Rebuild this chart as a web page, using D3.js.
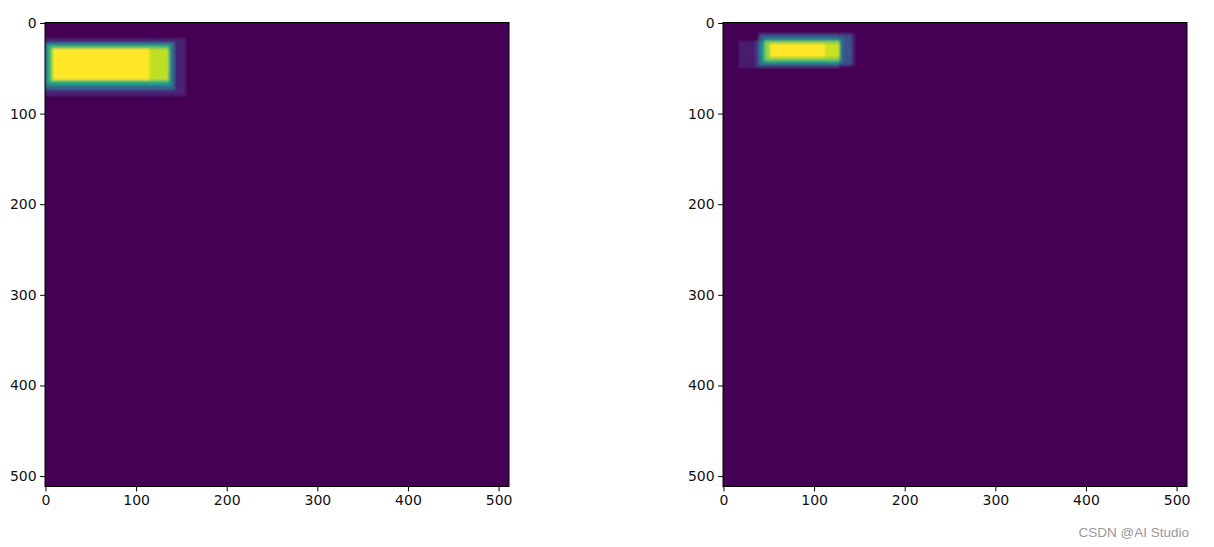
<!DOCTYPE html>
<html>
<head>
<meta charset="utf-8">
<script src="https://cdn.jsdelivr.net/npm/d3@7"></script>
<style>
  html, body { margin: 0; padding: 0; background: #ffffff; }
  svg { display: block; }
  .tick text { font-family: "DejaVu Sans", sans-serif; font-size: 14px; fill: #111; }
</style>
</head>
<body>
<svg id="chart" width="1214" height="547"></svg>
<script>
// ---- data ----
const imageSize = 512;
const tickValues = [0, 100, 200, 300, 400, 500];

// left panel: boxes (image pixel coordinates), summed into a count map
const leftX0 = [0, 0, 0, 0, 0, 2, 4, 6, 8, 8];
const leftY0 = [17, 21, 21, 23, 23, 25, 25, 28, 28, 28];
const leftX1 = [154, 143, 143, 140, 140, 136, 136, 136, 136, 115];
const leftY1 = [80, 74.5, 74.5, 70, 70, 66, 66, 63, 63, 63];

// right panel boxes
const rightX0 = [17, 35, 39, 39, 39, 42.5, 42.5, 45.8, 45.8, 45.8, 51.4, 51.4];
const rightY0 = [20, 20, 11.6, 11.6, 14, 14, 17, 17, 20, 20, 22.7, 22.7];
const rightX1 = [128, 128, 145, 141.8, 141.8, 131.8, 131.8, 128.6, 128.6, 128.6, 128.6, 112];
const rightY1 = [49, 49, 47, 47, 45, 45, 43, 43, 41, 41, 38, 38];

const watermark = "CSDN @AI Studio";

// ---- drawing ----
const svg = d3.select("#chart");
const defs = svg.append("defs");
defs.append("filter").attr("id", "soft")
  .attr("x", "-5%").attr("y", "-5%").attr("width", "110%").attr("height", "110%")
  .append("feGaussianBlur").attr("stdDeviation", 0.9);

const panels = [
  { left: 45, top: 22.5, size: 464, x0: leftX0, y0: leftY0, x1: leftX1, y1: leftY1, id: "L" },
  { left: 723, top: 22.5, size: 464, x0: rightX0, y0: rightY0, x1: rightX1, y1: rightY1, id: "R" }
];

panels.forEach(p => {
  const x = d3.scaleLinear().domain([-0.5, imageSize - 0.5]).range([p.left, p.left + p.size]);
  const y = d3.scaleLinear().domain([-0.5, imageSize - 0.5]).range([p.top, p.top + p.size]);
  const n = p.x0.length;
  const color = d3.scaleSequential(d3.interpolateViridis).domain([0, n]);

  const boxes = d3.range(n).map(i => ({ x0: p.x0[i], y0: p.y0[i], x1: p.x1[i], y1: p.y1[i] }));
  const xb = Array.from(new Set([-0.5, imageSize - 0.5, ...p.x0, ...p.x1])).sort((a, b) => a - b);
  const yb = Array.from(new Set([-0.5, imageSize - 0.5, ...p.y0, ...p.y1])).sort((a, b) => a - b);
  const cells = [];
  for (let i = 0; i < xb.length - 1; i++) {
    for (let j = 0; j < yb.length - 1; j++) {
      const cx = (xb[i] + xb[i + 1]) / 2, cy = (yb[j] + yb[j + 1]) / 2;
      const count = boxes.filter(b => cx > b.x0 && cx < b.x1 && cy > b.y0 && cy < b.y1).length;
      if (count > 0) cells.push({ x0: xb[i], x1: xb[i + 1], y0: yb[j], y1: yb[j + 1], count });
    }
  }

  defs.append("clipPath").attr("id", "clip" + p.id)
    .append("rect").attr("x", p.left).attr("y", p.top).attr("width", p.size).attr("height", p.size);

  const g = svg.append("g").attr("clip-path", `url(#clip${p.id})`);
  const inner = g.append("g").attr("filter", "url(#soft)");
  inner.append("rect")
    .attr("x", x(-0.5) - 3).attr("y", y(-0.5) - 3)
    .attr("width", p.size + 6).attr("height", p.size + 6)
    .attr("fill", color(0));
  inner.selectAll("rect.cell").data(cells).join("rect")
    .attr("class", "cell")
    .attr("x", d => x(d.x0)).attr("y", d => y(d.y0))
    .attr("width", d => x(d.x1) - x(d.x0) + 0.3)
    .attr("height", d => y(d.y1) - y(d.y0) + 0.3)
    .attr("fill", d => color(d.count));

  // frame
  svg.append("rect").attr("x", p.left).attr("y", p.top).attr("width", p.size).attr("height", p.size)
    .attr("fill", "none").attr("stroke", "#000").attr("stroke-width", 1);

  const xAxis = d3.axisBottom(x).tickValues(tickValues).tickSize(4.9).tickPadding(3.5);
  const yAxis = d3.axisLeft(y).tickValues(tickValues).tickSize(4.9).tickPadding(3.5);
  const gx = svg.append("g").attr("transform", `translate(0,${p.top + p.size})`).call(xAxis);
  const gy = svg.append("g").attr("transform", `translate(${p.left},0)`).call(yAxis);
  [gx, gy].forEach(a => {
    a.select(".domain").remove();
    a.selectAll(".tick line").attr("stroke", "#000").attr("stroke-width", 1);
  });
});

svg.append("text")
  .attr("x", 1189).attr("y", 536.5)
  .attr("text-anchor", "end")
  .attr("font-family", "Liberation Sans, Arial, sans-serif")
  .attr("font-size", 13.5)
  .attr("fill", "#9a9a9a")
  .text(watermark);
</script>
</body>
</html>
